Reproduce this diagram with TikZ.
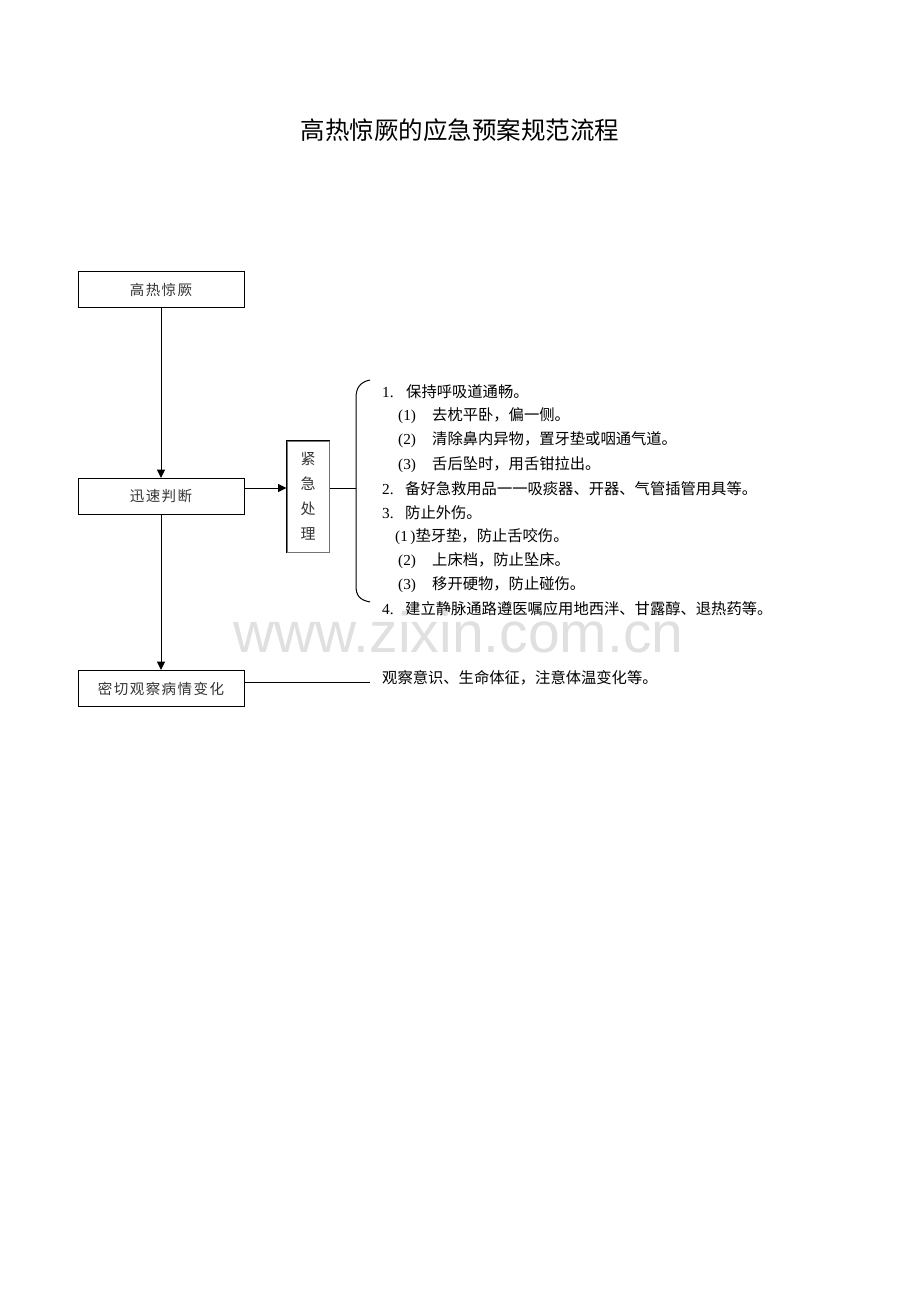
\documentclass[tikz,border=0pt]{standalone}
\usepackage{fontspec}
\setmainfont{Noto Sans CJK SC}
\newfontfamily\numfont{Liberation Serif}
\newfontfamily\boxfont[LetterSpace=10]{Noto Sans CJK SC}
\newfontfamily\markfont{Liberation Sans}
\usetikzlibrary{arrows.meta,positioning}

\tikzset{
  stepbox/.style={draw, line width=1pt, minimum width=166pt, minimum height=36pt,
    inner sep=2pt, text=black!80, font=\boxfont\fontsize{14.5}{16}\selectfont},
  arr/.style={-{Triangle[length=8.5pt,width=8pt]}, line width=1pt},
  item/.style={anchor=west, inner sep=0pt, font=\fontsize{15.3}{18}\selectfont},
}

\begin{document}
\begin{tikzpicture}[x=1pt, y=-1pt]
  \useasboundingbox (0,0) rectangle (920,1302);

  \node[font=\fontsize{24.5}{26}\selectfont] (title) at (460,130) {高热惊厥的应急预案规范流程};

  % flow boxes
  \node[stepbox] (fever) at (161,289.5) {高热惊厥};
  \node[stepbox, below=170pt of fever] (judge) {迅速判断};
  \node[stepbox, below=155pt of judge] (watch) {密切观察病情变化};
  \node[stepbox, right=42pt of judge, minimum width=42pt, minimum height=111pt,
        align=center, font=\fontsize{15}{25}\selectfont, draw=black!55] (urgent) {紧\\急\\处\\理};
  \draw[line width=1.4pt] (urgent.south west) -- (urgent.north west) -- (urgent.north east);

  \draw[arr] (fever) -- (judge);
  \draw[arr] (judge) -- (watch);

  % brace
  \coordinate (brace) at (356,488);
  \coordinate (obs) at (370,682);
  \draw[arr] (judge.east |- brace) -- (urgent.west |- brace);
  \draw[line width=1pt] (urgent.east |- brace) -- (brace);
  \draw[line width=1pt] (370,380) .. controls (360,382) and (356,388) .. (356,398)
    -- (356,586) .. controls (356,596) and (360,600) .. (370,602);
  \draw[line width=1pt] (watch.east |- obs) -- (obs);

  % measures
  \node[item] (m1)  at (382,392) {\makebox[24pt][l]{\numfont 1.}保持呼吸道通畅。};
  \node[item] (m11) at (398,416) {\makebox[34pt][l]{\numfont (1)}去枕平卧，偏一侧。};
  \node[item] (m12) at (398,440) {\makebox[34pt][l]{\numfont (2)}清除鼻内异物，置牙垫或咽通气道。};
  \node[item] (m13) at (398,465) {\makebox[34pt][l]{\numfont (3)}舌后坠时，用舌钳拉出。};
  \node[item] (m2)  at (382,489) {\makebox[23pt][l]{\numfont 2.}备好急救用品一一吸痰器、开器、气管插管用具等。};
  \node[item] (m3)  at (382,513) {\makebox[23pt][l]{\numfont 3.}防止外伤。};
  \node[item] (m31) at (395,537) {{\numfont (1\,)}垫牙垫，防止舌咬伤。};
  \node[item] (m32) at (398,561) {\makebox[34pt][l]{\numfont (2)}上床档，防止坠床。};
  \node[item] (m33) at (398,585) {\makebox[34pt][l]{\numfont (3)}移开硬物，防止碰伤。};
  \node[item] (m4)  at (382,609) {\makebox[23pt][l]{\numfont 4.}建立静脉通路遵医嘱应用地西泮、甘露醇、退热药等。};
  \node[item] (obsText) at (382,678) {观察意识、生命体征，注意体温变化等。};

  \node[anchor=base, text=black!12, font=\markfont\fontsize{57}{60}\selectfont] (mark) at (458.5,652) {www.zixin.com.cn};
\end{tikzpicture}
\end{document}
